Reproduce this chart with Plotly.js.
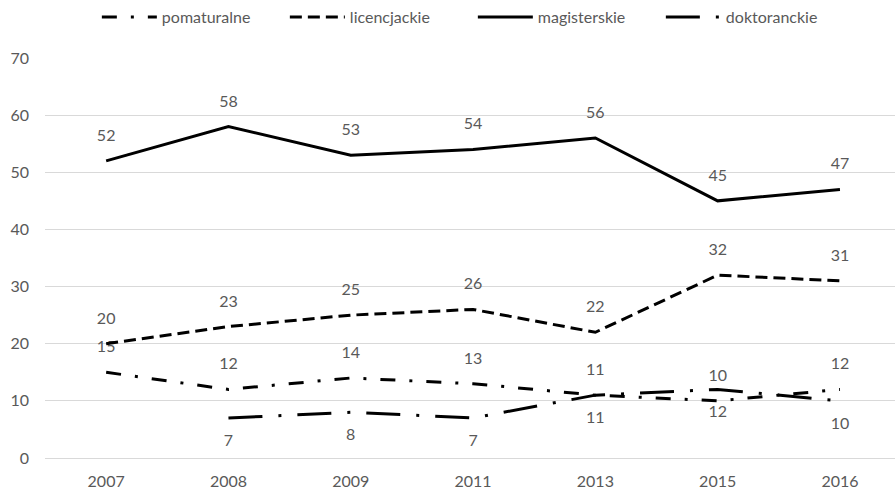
<!DOCTYPE html>
<html>
<head>
<meta charset="utf-8">
<script src="https://cdn.plot.ly/plotly-3.0.1.min.js"></script>
<style>html,body{margin:0;padding:0;background:#fff;}#chart{width:895px;height:492px;}</style>
</head>
<body>
<div id="chart"></div>
<script>
const years = ['2007','2008','2009','2011','2013','2015','2016'];
const pomaturalne = [15, 12, 14, 13, 11, 10, 12];
const licencjackie = [20, 23, 25, 26, 22, 32, 31];
const magisterskie = [52, 58, 53, 54, 56, 45, 47];
const doktoranckie = [null, 7, 8, 7, 11, 12, 10];
const yTicks = [0, 10, 20, 30, 40, 50, 60, 70];

const FONT = 'Lato, "Open Sans", sans-serif';
const GRAY = '#595959';
const FS = 16;

function series(name, vals, dash, pos) {
  return {
    type: 'scatter',
    mode: 'lines+markers+text',
    name: name,
    x: years,
    y: vals,
    text: vals.map(v => v === null ? '' : String(v)),
    textposition: pos,
    textfont: {family: FONT, size: FS, color: GRAY},
    line: {color: '#000', width: 3, dash: dash},
    marker: {size: 24, color: 'rgba(0,0,0,0)', line: {width: 0, color: 'rgba(0,0,0,0)'}},
    connectgaps: false,
    cliponaxis: false,
    hoverinfo: 'skip'
  };
}

const data = [
  series('pomaturalne', pomaturalne, '15px,14px,3px,14px', 'top center'),
  series('licencjackie', licencjackie, '12px,6px', 'top center'),
  series('magisterskie', magisterskie, 'solid', 'top center'),
  series('doktoranckie', doktoranckie, '34px,16px,3px,16px', 'bottom center')
];

const layout = {
  width: 895, height: 492,
  margin: {l: 45, r: 0, t: 58, b: 34, autoexpand: false},
  paper_bgcolor: '#fff', plot_bgcolor: '#fff',
  font: {family: FONT, size: FS, color: GRAY},
  showlegend: true,
  legend: {
    orientation: 'h', x: 0.061, xanchor: 'left', y: 1.1025, yanchor: 'middle',
    font: {family: FONT, size: FS, color: GRAY},
    itemwidth: 55, entrywidth: 118, traceorder: 'normal'
  },
  xaxis: {
    type: 'category', range: [-0.5, 6.45], automargin: false,
    showgrid: false, zeroline: false, showline: false, ticks: '',
    ticklabelstandoff: 12,
    tickfont: {family: FONT, size: FS, color: GRAY}
  },
  yaxis: {
    range: [0, 70], tickvals: yTicks, ticktext: yTicks.map(String), automargin: false,
    showgrid: true, gridcolor: '#d9d9d9', gridwidth: 1,
    zeroline: true, zerolinecolor: '#d9d9d9', zerolinewidth: 1,
    showline: false, ticks: '', ticklabelstandoff: 15,
    tickfont: {family: FONT, size: FS, color: GRAY}
  }
};

Plotly.newPlot('chart', data, layout, {displayModeBar: false, staticPlot: true});
</script>
</body>
</html>
